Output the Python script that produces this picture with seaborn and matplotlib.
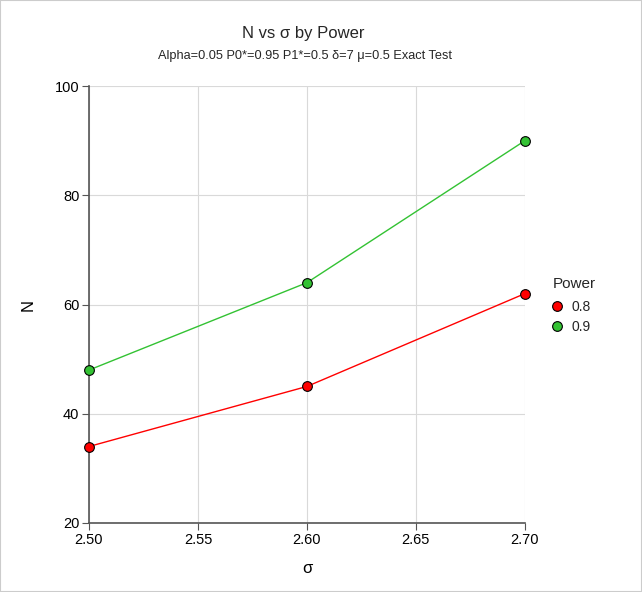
import matplotlib
matplotlib.use("Agg")
import matplotlib.pyplot as plt
import seaborn as sns
import pandas as pd
from matplotlib.lines import Line2D

sigma = [2.50, 2.60, 2.70]
n_power_08 = [34, 45, 62]
n_power_09 = [48, 64, 90]
power_levels = ["0.8", "0.9"]
x_ticks = [2.50, 2.55, 2.60, 2.65, 2.70]
y_ticks = [20, 40, 60, 80, 100]

df = pd.DataFrame({
    "sigma": sigma * 2,
    "N": n_power_08 + n_power_09,
    "Power": [power_levels[0]] * 3 + [power_levels[1]] * 3,
})

sns.set_style("white")
plt.rcParams["font.family"] = ["Liberation Sans", "DejaVu Sans"]

fig = plt.figure(figsize=(6.42, 5.92), dpi=100)
ax = fig.add_axes([0.1386, 0.1166, 0.679, 0.738])

palette = {"0.8": "#ff0000", "0.9": "#33c233"}
sns.lineplot(data=df, x="sigma", y="N", hue="Power", palette=palette,
             marker="o", markersize=7, markeredgecolor="black", markeredgewidth=0.8,
             linewidth=1, ax=ax, legend=False)
for ln in ax.lines:
    ln.set_clip_on(False)
    ln.set_zorder(5)

ax.set_xlim(2.50, 2.70)
ax.set_ylim(20, 100)
ax.set_xticks(x_ticks)
ax.set_xticklabels([f"{v:.2f}" for v in x_ticks])
ax.set_yticks(y_ticks)
ax.grid(True, color="#d9d9d9", linewidth=0.8)
ax.set_axisbelow(True)
for s in ["top", "right"]:
    ax.spines[s].set_visible(False)
for s in ["left", "bottom"]:
    ax.spines[s].set_color("#555555")
    ax.spines[s].set_linewidth(1.2)
ax.tick_params(axis="both", which="both", length=5, color="#555555", labelsize=10.5,
               labelcolor="black", direction="out", left=True, bottom=True, pad=2)
ax.set_xlabel("σ", fontsize=12, labelpad=10, color="black")
ax.set_ylabel("N", fontsize=12, labelpad=14, color="black")

fig.text(0.473, 0.943, "N vs σ by Power", ha="center", va="center", fontsize=12)
fig.text(0.475, 0.905, "Alpha=0.05 P0*=0.95 P1*=0.5 δ=7 μ=0.5 Exact Test",
         ha="center", va="center", fontsize=9.2)

fig.text(553 / 642, 1 - 284 / 592, "Power", ha="left", va="center", fontsize=11)
handles = [Line2D([], [], linestyle="none", marker="o", markersize=7,
                  markerfacecolor=palette[p], markeredgecolor="black", markeredgewidth=0.8)
           for p in power_levels]
leg = fig.legend(handles, power_levels, loc="upper left",
                 bbox_to_anchor=(0.857, 1 - 300 / 592), frameon=False, fontsize=10,
                 handletextpad=0.5, labelspacing=0.42,
                 handlelength=1.0, borderaxespad=0, borderpad=0)

fig.patches.append(plt.Rectangle((0, 0), 1, 1, transform=fig.transFigure,
                                 fill=False, edgecolor="#cccccc", linewidth=1.5))
fig.savefig("out.png", dpi=100)
